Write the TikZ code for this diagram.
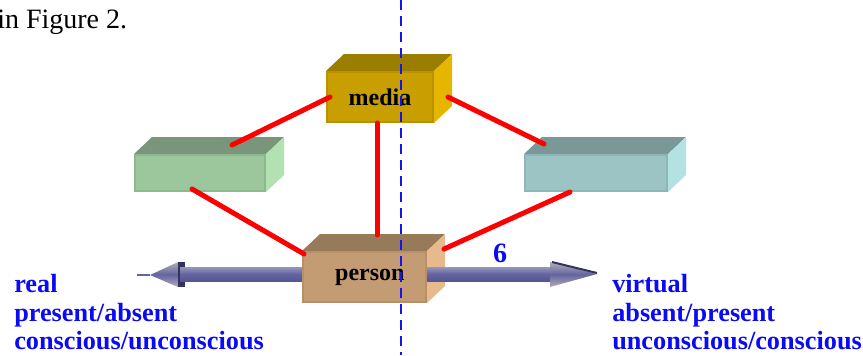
\documentclass[tikz,border=0pt]{standalone}
\usepackage{fontspec}
\setmainfont{Liberation Serif}
\usetikzlibrary{calc,backgrounds}

% top and right faces of a slab, behind its front face
\newcommand\slabfaces[2]{%
  \fill[#2top] (#1.north west) -- (#1.north east) -- ++(18,-17)
    -- ([shift={(18,-17)}]#1.north west) -- cycle;
  \fill[#2side] (#1.north east) -- (#1.south east) -- ++(18,-17)
    -- ([shift={(18,-17)}]#1.north east) -- cycle;}

\begin{document}
\begin{tikzpicture}
  [x=0.75pt,y=-0.75pt,line cap=round,
   % Styles
   slab/.style={draw=#1rim,fill=#1front,line width=1.5pt,inner sep=0pt,
     font=\fontsize{18}{18}\selectfont\bfseries},
   link/.style={red,line width=3.75pt},
   divider/.style={dashcolor,line width=1.5pt,dash pattern=on 7.5pt off 4.5pt,line cap=butt},
   sidetext/.style={align=left,inner sep=0pt,text=textblue,
     font=\fontsize{19.7}{21.5}\selectfont\bfseries}]

  % Colors
  \definecolor{mediafront}{RGB}{200,158,0}
  \definecolor{mediatop}{RGB}{155,125,0}
  \definecolor{mediaside}{RGB}{228,182,0}
  \definecolor{mediarim}{RGB}{186,146,0}
  \definecolor{greenfront}{RGB}{156,198,156}
  \definecolor{greentop}{RGB}{122,150,122}
  \definecolor{greenside}{RGB}{178,226,178}
  \definecolor{greenrim}{RGB}{142,184,142}
  \definecolor{tealfront}{RGB}{156,196,196}
  \definecolor{tealtop}{RGB}{122,152,150}
  \definecolor{tealside}{RGB}{180,226,226}
  \definecolor{tealrim}{RGB}{142,182,182}
  \definecolor{personfront}{RGB}{196,156,116}
  \definecolor{persontop}{RGB}{150,122,90}
  \definecolor{personside}{RGB}{230,186,140}
  \definecolor{personrim}{RGB}{184,144,104}
  \definecolor{shaftblue}{RGB}{100,100,160}
  \definecolor{shafttop}{RGB}{150,150,190}
  \definecolor{shaftbot}{RGB}{85,85,145}
  \definecolor{headgray}{RGB}{175,175,185}
  \definecolor{arrowdark}{RGB}{50,50,90}
  \definecolor{dashcolor}{RGB}{20,20,250}
  \definecolor{textblue}{RGB}{10,10,245}

  \useasboundingbox (0,0) rectangle (863,355);

  % front faces
  \node[slab=media,minimum width=79.5pt,minimum height=37.5pt] (media) at (380,97) {media};
  \node[slab=green,minimum width=97.5pt,minimum height=27pt] (green) at (200,173) {};
  \node[slab=teal,minimum width=106.5pt,minimum height=27pt] (teal) at (596,173) {};
  \node[slab=person,minimum width=92.25pt,minimum height=37.5pt] (person) at (364.5,277) {\hspace{8pt}person};

  \begin{scope}[on background layer]
    \slabfaces{media}{media}
    \slabfaces{green}{green}
    \slabfaces{teal}{teal}
    \slabfaces{person}{person}

    % double arrow running through the person
    \fill[arrowdark] (178,262) rectangle (185,287);
    \shade[top color=headgray,bottom color=headgray,middle color=shaftblue]
      (150,275) -- (178,262) -- (178,287) -- cycle;
    \draw[shaftblue,line width=1.5pt] (137,275) -- (150,275);
    \shade[top color=shafttop,bottom color=shaftbot,middle color=shaftblue]
      (180,267) rectangle (552,281);
    \shade[top color=headgray,bottom color=headgray,middle color=shaftblue]
      (550,262) -- (597,274) -- (550,287) -- cycle;
    \draw[arrowdark,line width=1.5pt] (552,262) -- (597,273);
  \end{scope}

  % links
  \draw[link] ($(media.west)+(4,0)$) -- ($(green.north)+(32,-9)$);
  \draw[link] ($(media.east)+(14,0)$) -- ($(teal.north west)+(20,-10)$);
  \draw[link] ($(media.south)+(-3,0)$) -- ($(person.north)+(12.5,-16)$);
  \draw[link] ($(green.south)+(-8,-3)$) -- ($(person.north west)+(2,3)$);
  \draw[link] ($(teal.south)+(-26,0)$) -- ($(person.north east)+(17,-2)$);

  % texts
  \node[anchor=base west,inner sep=0pt,font=\fontsize{21}{21}\selectfont] (caption) at (-3,28) {in Figure 2.};
  \node[text=textblue,inner sep=0pt,font=\fontsize{21}{21}\selectfont\bfseries] (six) at (500,253) {6};
  \node[sidetext,anchor=north west] (realside) at (14,274) {real\\present/absent\\conscious/unconscious};
  \node[sidetext,anchor=north west] (virtualside) at (612,274) {virtual\\absent/present\\unconscious/conscious};

  % dividing line
  \coordinate (divtop) at (401,0);
  \coordinate (divbottom) at (401,355);
  \draw[divider] (divtop) -- (divbottom);
\end{tikzpicture}
\end{document}
